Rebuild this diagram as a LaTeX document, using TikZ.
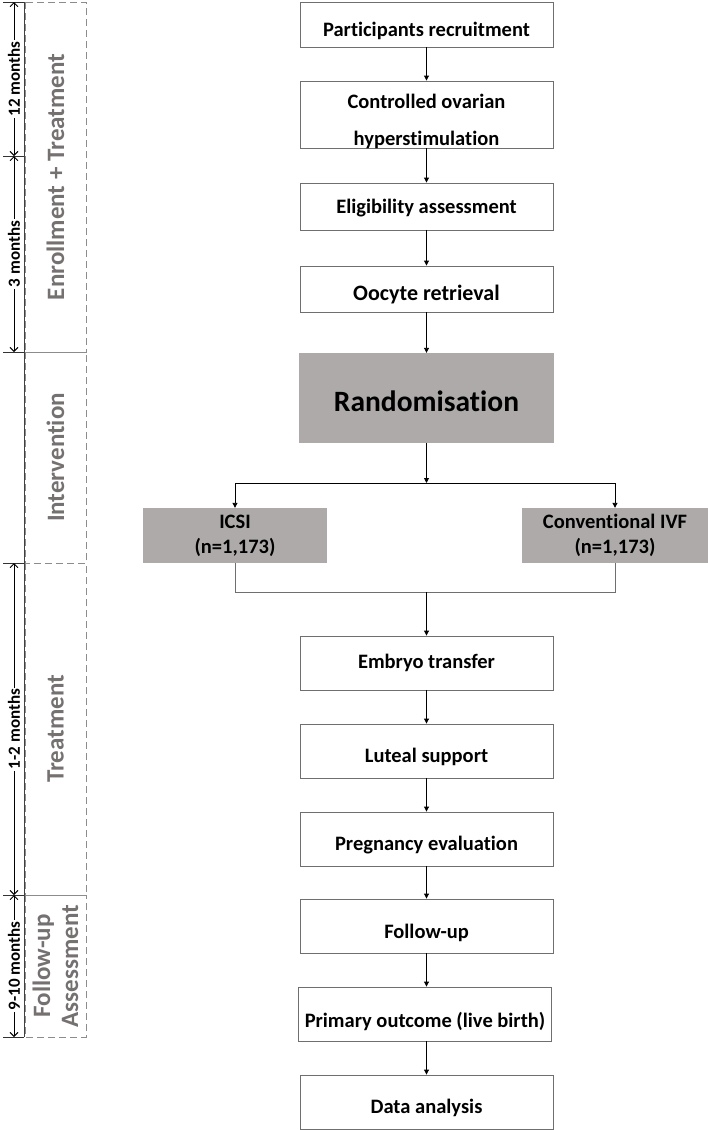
\documentclass[tikz,border=0pt]{standalone}
\usepackage{fontspec}
\setmainfont{Carlito}[RawFeature={-liga}]
\usetikzlibrary{arrows.meta}
\definecolor{boxgray}{HTML}{AEAAAA}
\definecolor{edgegray}{HTML}{6F6F6F}
\definecolor{phasegray}{HTML}{8C8C8C}
\definecolor{phasetext}{HTML}{767171}
\newcommand\lowtxt[2]{\raisebox{-#1pt}[\height][\depth]{#2}}
\tikzset{
  flowbox/.style={draw=edgegray, line width=0.9pt, fill=white, minimum width=253pt, inner sep=0pt, font=\bfseries\fontsize{20.5}{25}\selectfont, align=center},
  grbox/.style={draw=none, fill=boxgray, inner sep=0pt, font=\bfseries\fontsize{20.5}{25}\selectfont, align=center},
  phasebox/.style={draw=phasegray, line width=1pt, dash pattern=on 7pt off 4pt, rotate=90, minimum height=61pt, inner sep=0pt, text=phasetext, font=\bfseries\fontsize{25}{28}\selectfont, align=center},
  arr/.style={-{Triangle[length=5pt,width=5pt]}, line width=0.9pt, black},
  mergeline/.style={line width=0.9pt, edgegray},
  dimarr/.style={{Straight Barb[length=4pt,width=8pt]}-{Straight Barb[length=4pt,width=8pt]}, line width=0.9pt, black},
  dimlbl/.style={fill=white, rotate=90, inner sep=1.5pt, font=\bfseries\fontsize{17}{19}\selectfont},
  tick/.style={line width=0.9pt, black!80},
}
\begin{document}
\begin{tikzpicture}[x=1pt, y=-1pt]
\useasboundingbox (0,0) rectangle (708,1130);

% ---- main flow ----
\node[flowbox, minimum height=45pt] (b1) at (426.5,24.5) {\lowtxt{6}{Participants recruitment}};
\node[flowbox, minimum height=67pt] (b2) at (426.5,114.5) {\lowtxt{7.5}{\begin{tabular}{@{}c@{}}Controlled ovarian\\[12pt]hyperstimulation\end{tabular}}};
\node[flowbox, minimum height=47pt] (b3) at (426.5,206.5) {\lowtxt{1.5}{Eligibility assessment}};
\node[flowbox, minimum height=46pt, font=\bfseries\fontsize{22}{26}\selectfont] (b4) at (426.5,289) {\lowtxt{6}{Oocyte retrieval}};
\node[grbox, minimum width=255pt, minimum height=90pt, font=\bfseries\fontsize{29.5}{32}\selectfont] (rand) at (426.5,398) {\lowtxt{3}{Randomisation}};
\node[grbox, minimum width=184pt, minimum height=55pt] (icsi) at (235,535.5) {ICSI\\(n=1,173)};
\node[grbox, minimum width=186pt, minimum height=55pt] (ivf) at (615,535.5) {Conventional IVF\\(n=1,173)};
\node[flowbox, minimum height=54pt] (emb) at (426.5,663) {Embryo transfer};
\node[flowbox, minimum height=54pt] (lut) at (426.5,751) {\lowtxt{5.5}{Luteal support}};
\node[flowbox, minimum height=54pt] (preg) at (426.5,839) {\lowtxt{6}{Pregnancy evaluation}};
\node[flowbox, minimum height=54pt] (fol) at (426.5,926) {\lowtxt{6.5}{Follow-up}};
\node[flowbox, minimum height=54pt] (prim) at (425,1014) {\lowtxt{7}{Primary outcome (live birth)}};
\node[flowbox, minimum height=54pt] (data) at (426.5,1102) {\lowtxt{6}{Data analysis}};

\coordinate (split) at (426.5,483);
\coordinate (merge) at (426.5,592);

\draw[arr] (b1) -- (b2);
\draw[arr] (b2) -- (b3);
\draw[arr] (b3) -- (b4);
\draw[arr] (b4) -- (rand);
\draw[arr] (rand.south) -- (split);
\draw[line width=0.9pt] (split -| icsi) -- (split -| ivf);
\draw[arr] (split -| icsi) -- (icsi.north);
\draw[arr] (split -| ivf) -- (ivf.north);
\draw[mergeline] (icsi.south) -- (merge -| icsi) -- (merge -| ivf) -- (ivf.south);
\draw[arr] (merge) -- (emb.north);
\draw[arr] (emb) -- (lut);
\draw[arr] (lut) -- (preg);
\draw[arr] (preg) -- (fol);
\draw[arr] (fol) -- (fol |- prim.north);
\draw[arr] (prim.south -| data) -- (data.north);

% ---- phase boxes ----
\node[phasebox, minimum width=350pt] (ph1) at (55.5,177) {Enrollment + Treatment};
\node[phasebox, minimum width=211pt] (ph2) at (55.5,457.5) {Intervention};
\node[phasebox, minimum width=332pt] (ph3) at (55.5,729) {Treatment};
\node[phasebox, minimum width=142pt] (ph4) at (55.5,966) {Follow-up\\Assessment};

% ---- time scale ----
\coordinate (y0) at (14,2);
\coordinate (y1) at (14,156);
\coordinate (y2) at (14,352);
\coordinate (y3) at (14,563);
\coordinate (y4) at (14,895);
\coordinate (y5) at (14,1037);
\coordinate (axtop) at (24,2);
\coordinate (axbot) at (24,1037);
\draw[line width=1pt, black!75] (axtop) -- (axbot);
\foreach \c in {y0,y1,y2,y3,y4,y5}{
  \draw[tick] ([xshift=-11pt]\c) -- (\c -| axtop);
}
\draw[dimarr] (y0) -- (y1) node[midway, dimlbl] {12 months};
\draw[dimarr] (y1) -- (y2) node[midway, dimlbl] {3 months};
\draw[dimarr] (y3) -- (y4) node[midway, dimlbl] {1-2 months};
\draw[dimarr] (y4) -- (y5) node[midway, dimlbl] {9-10 months};
\end{tikzpicture}
\end{document}
